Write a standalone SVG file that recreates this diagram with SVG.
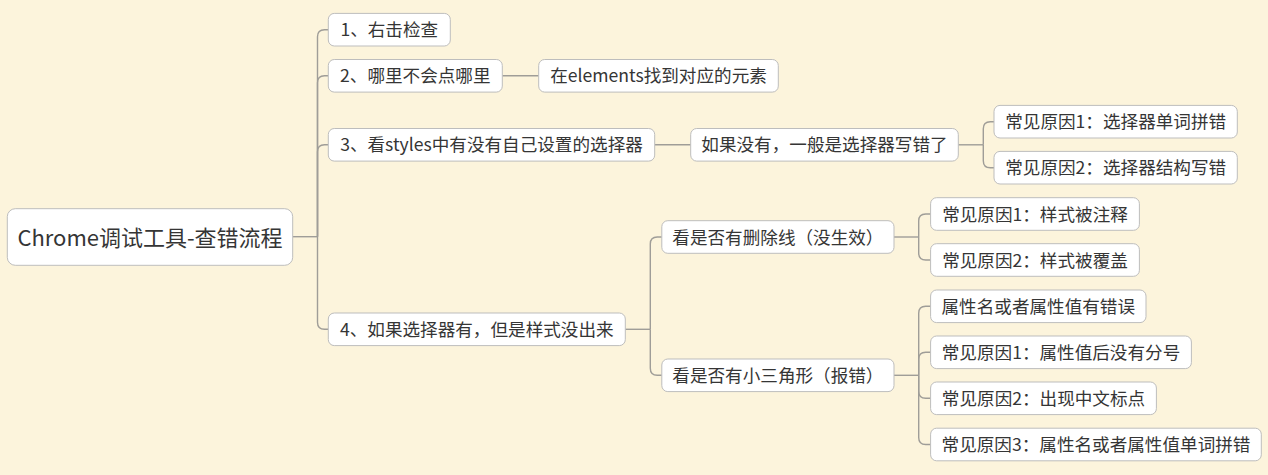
<svg xmlns="http://www.w3.org/2000/svg" width="1268" height="475" viewBox="0 0 1268 475">
<style>
.bg{fill:#fcf4dc}
.box{fill:#ffffff;stroke:#bdbdbd;stroke-width:1}
.t{font-family:"Noto Sans CJK SC","Microsoft YaHei",sans-serif;font-size:17.6px;fill:#353535;text-anchor:middle}
.rt{font-family:"Noto Sans CJK SC","Microsoft YaHei",sans-serif;font-size:22px;fill:#353535;text-anchor:middle}
.c path{fill:none;stroke:#9f9d98;stroke-width:1.4}
</style>
<rect class="bg" x="0" y="0" width="1268" height="475"/>
<g class="c" id="connectors">
<path d="M292.7,236.7 H317.5"/>
<path d="M317.5,236.7 V36.7 Q317.5,29.7 324.5,29.7 H328.3"/>
<path d="M317.5,236.7 V82.8 Q317.5,75.8 324.5,75.8 H328.3"/>
<path d="M317.5,236.7 V151.8 Q317.5,144.8 324.5,144.8 H328.3"/>
<path d="M317.5,236.7 V322.3 Q317.5,329.3 324.5,329.3 H328.3"/>
<path d="M502.3,75.8 H538.7"/>
<path d="M654.7,144.8 H690.7"/>
<path d="M958.3,144.8 H983.3"/>
<path d="M983.3,144.8 V128.7 Q983.3,121.7 990.3,121.7 H994"/>
<path d="M983.3,144.8 V160.7 Q983.3,167.7 990.3,167.7 H994"/>
<path d="M625.3,329.3 H650.3"/>
<path d="M650.3,329.3 V244 Q650.3,237 657.3,237 H661.8"/>
<path d="M650.3,329.3 V368.3 Q650.3,375.3 657.3,375.3 H661.8"/>
<path d="M894,237 H918.7"/>
<path d="M918.7,237 V221 Q918.7,214 925.7,214 H930.6"/>
<path d="M918.7,237 V253 Q918.7,260 925.7,260 H930.6"/>
<path d="M894,375.3 H918.7"/>
<path d="M918.7,375.3 V313.3 Q918.7,306.3 925.7,306.3 H930.6"/>
<path d="M918.7,375.3 V359.3 Q918.7,352.3 925.7,352.3 H930.6"/>
<path d="M918.7,375.3 V391.3 Q918.7,398.3 925.7,398.3 H930.6"/>
<path d="M918.7,375.3 V437.5 Q918.7,444.5 925.7,444.5 H930.6"/>
</g>
<g id="root"><rect class="box" x="7.3" y="208.7" width="285.4" height="56.6" rx="8"/><text class="rt" x="150" y="245.5">Chrome调试工具-查错流程</text></g>
<g id="n1"><rect class="box" x="328.3" y="13.4" width="122" height="32.6" rx="6"/><text class="t" x="389.3" y="36.2">1、右击检查</text></g>
<g id="n2"><rect class="box" x="328.3" y="59.5" width="174" height="32.6" rx="6"/><text class="t" x="415.3" y="82.3">2、哪里不会点哪里</text></g>
<g id="n2a"><rect class="box" x="538.7" y="59.5" width="239.6" height="32.6" rx="6"/><text class="t" x="658.5" y="82.3">在elements找到对应的元素</text></g>
<g id="n3"><rect class="box" x="328.3" y="128.5" width="326.4" height="32.6" rx="6"/><text class="t" x="491.5" y="151.3">3、看styles中有没有自己设置的选择器</text></g>
<g id="n3a"><rect class="box" x="690.7" y="128.5" width="267.6" height="32.6" rx="6"/><text class="t" x="824.5" y="151.3">如果没有，一般是选择器写错了</text></g>
<g id="n3a1"><rect class="box" x="994" y="105.4" width="243.3" height="32.6" rx="6"/><text class="t" x="1115.7" y="128.2">常见原因1：选择器单词拼错</text></g>
<g id="n3a2"><rect class="box" x="994" y="151.4" width="243.3" height="32.6" rx="6"/><text class="t" x="1115.7" y="174.2">常见原因2：选择器结构写错</text></g>
<g id="n4"><rect class="box" x="328.3" y="313" width="297" height="32.6" rx="6"/><text class="t" x="476.8" y="335.8">4、如果选择器有，但是样式没出来</text></g>
<g id="n4a"><rect class="box" x="661.8" y="220.7" width="232.2" height="32.6" rx="6"/><text class="t" x="777.9" y="243.5">看是否有删除线（没生效）</text></g>
<g id="n4a1"><rect class="box" x="930.6" y="197.7" width="208.8" height="32.6" rx="6"/><text class="t" x="1035" y="220.5">常见原因1：样式被注释</text></g>
<g id="n4a2"><rect class="box" x="930.6" y="243.7" width="208.8" height="32.6" rx="6"/><text class="t" x="1035" y="266.5">常见原因2：样式被覆盖</text></g>
<g id="n4b"><rect class="box" x="661.8" y="359" width="232.2" height="32.6" rx="6"/><text class="t" x="777.9" y="381.8">看是否有小三角形（报错）</text></g>
<g id="n4b1"><rect class="box" x="930.6" y="290" width="215.4" height="32.6" rx="6"/><text class="t" x="1038.3" y="312.8">属性名或者属性值有错误</text></g>
<g id="n4b2"><rect class="box" x="930.6" y="336" width="260.8" height="32.6" rx="6"/><text class="t" x="1061" y="358.8">常见原因1：属性值后没有分号</text></g>
<g id="n4b3"><rect class="box" x="930.6" y="382" width="225.8" height="32.6" rx="6"/><text class="t" x="1043.5" y="404.8">常见原因2：出现中文标点</text></g>
<g id="n4b4"><rect class="box" x="930.6" y="428.2" width="330.7" height="32.6" rx="6"/><text class="t" x="1096" y="451">常见原因3：属性名或者属性值单词拼错</text></g>
</svg>
